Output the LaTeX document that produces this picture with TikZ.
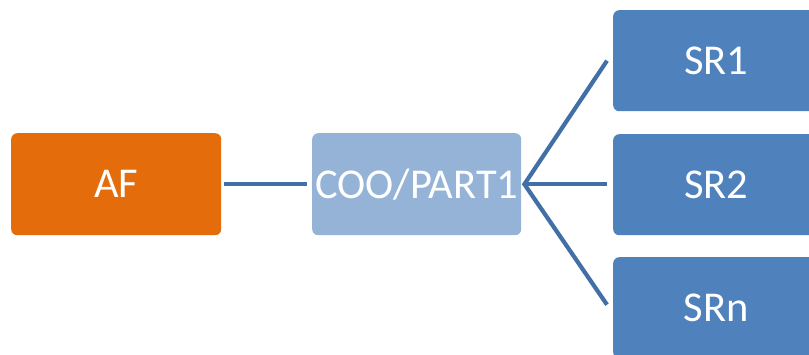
\documentclass[tikz,border=0pt]{standalone}
\usetikzlibrary{calc}
\usepackage{fontspec}
\setmainfont{Carlito}
\definecolor{afor}{RGB}{228,108,10}
\definecolor{coob}{RGB}{149,179,215}
\definecolor{srb}{RGB}{79,129,189}
\definecolor{lnc}{RGB}{66,111,166}
\begin{document}
\begin{tikzpicture}[x=1pt,y=-1pt,
  box/.style={rounded corners=6pt, text=white, font=\fontsize{42.5}{46}\selectfont, inner sep=0pt, anchor=north west},
  conn/.style={draw=lnc, line width=4.2pt}]
\useasboundingbox (0,0) rectangle (809,354);
\begin{scope}
\clip (0,0) rectangle (809,354);
\node[box, fill=afor, minimum width=210pt, minimum height=102pt] (af) at (11,133) {AF};
\node[box, fill=coob, minimum width=209pt, minimum height=102pt] (coo) at (312,133) {COO/PART1};
\node[box, fill=srb, minimum width=206pt, minimum height=101pt] (sr1) at (613,10) {SR1};
\node[box, fill=srb, minimum width=206pt, minimum height=101pt] (sr2) at (613,134) {SR2};
\node[box, fill=srb, minimum width=206pt, minimum height=101pt] (srn) at (613,257) {SRn};
\coordinate (hub) at ($(coo.east)+(3,0)$);
\coordinate (a1) at ($(af.east)+(3,0)$);
\coordinate (c1) at ($(coo.west)+(-5,0)$);
\coordinate (s1) at ($(sr1.west)+(-6,0)$);
\coordinate (s2) at ($(sr2.west)+(-6,-0.5)$);
\coordinate (sn) at ($(srn.west)+(-6,-3)$);
\draw[conn] (a1) -- (c1);
\draw[conn] (s1) -- (hub) -- (sn);
\draw[conn] (hub) -- (s2);
\end{scope}
\end{tikzpicture}
\end{document}
